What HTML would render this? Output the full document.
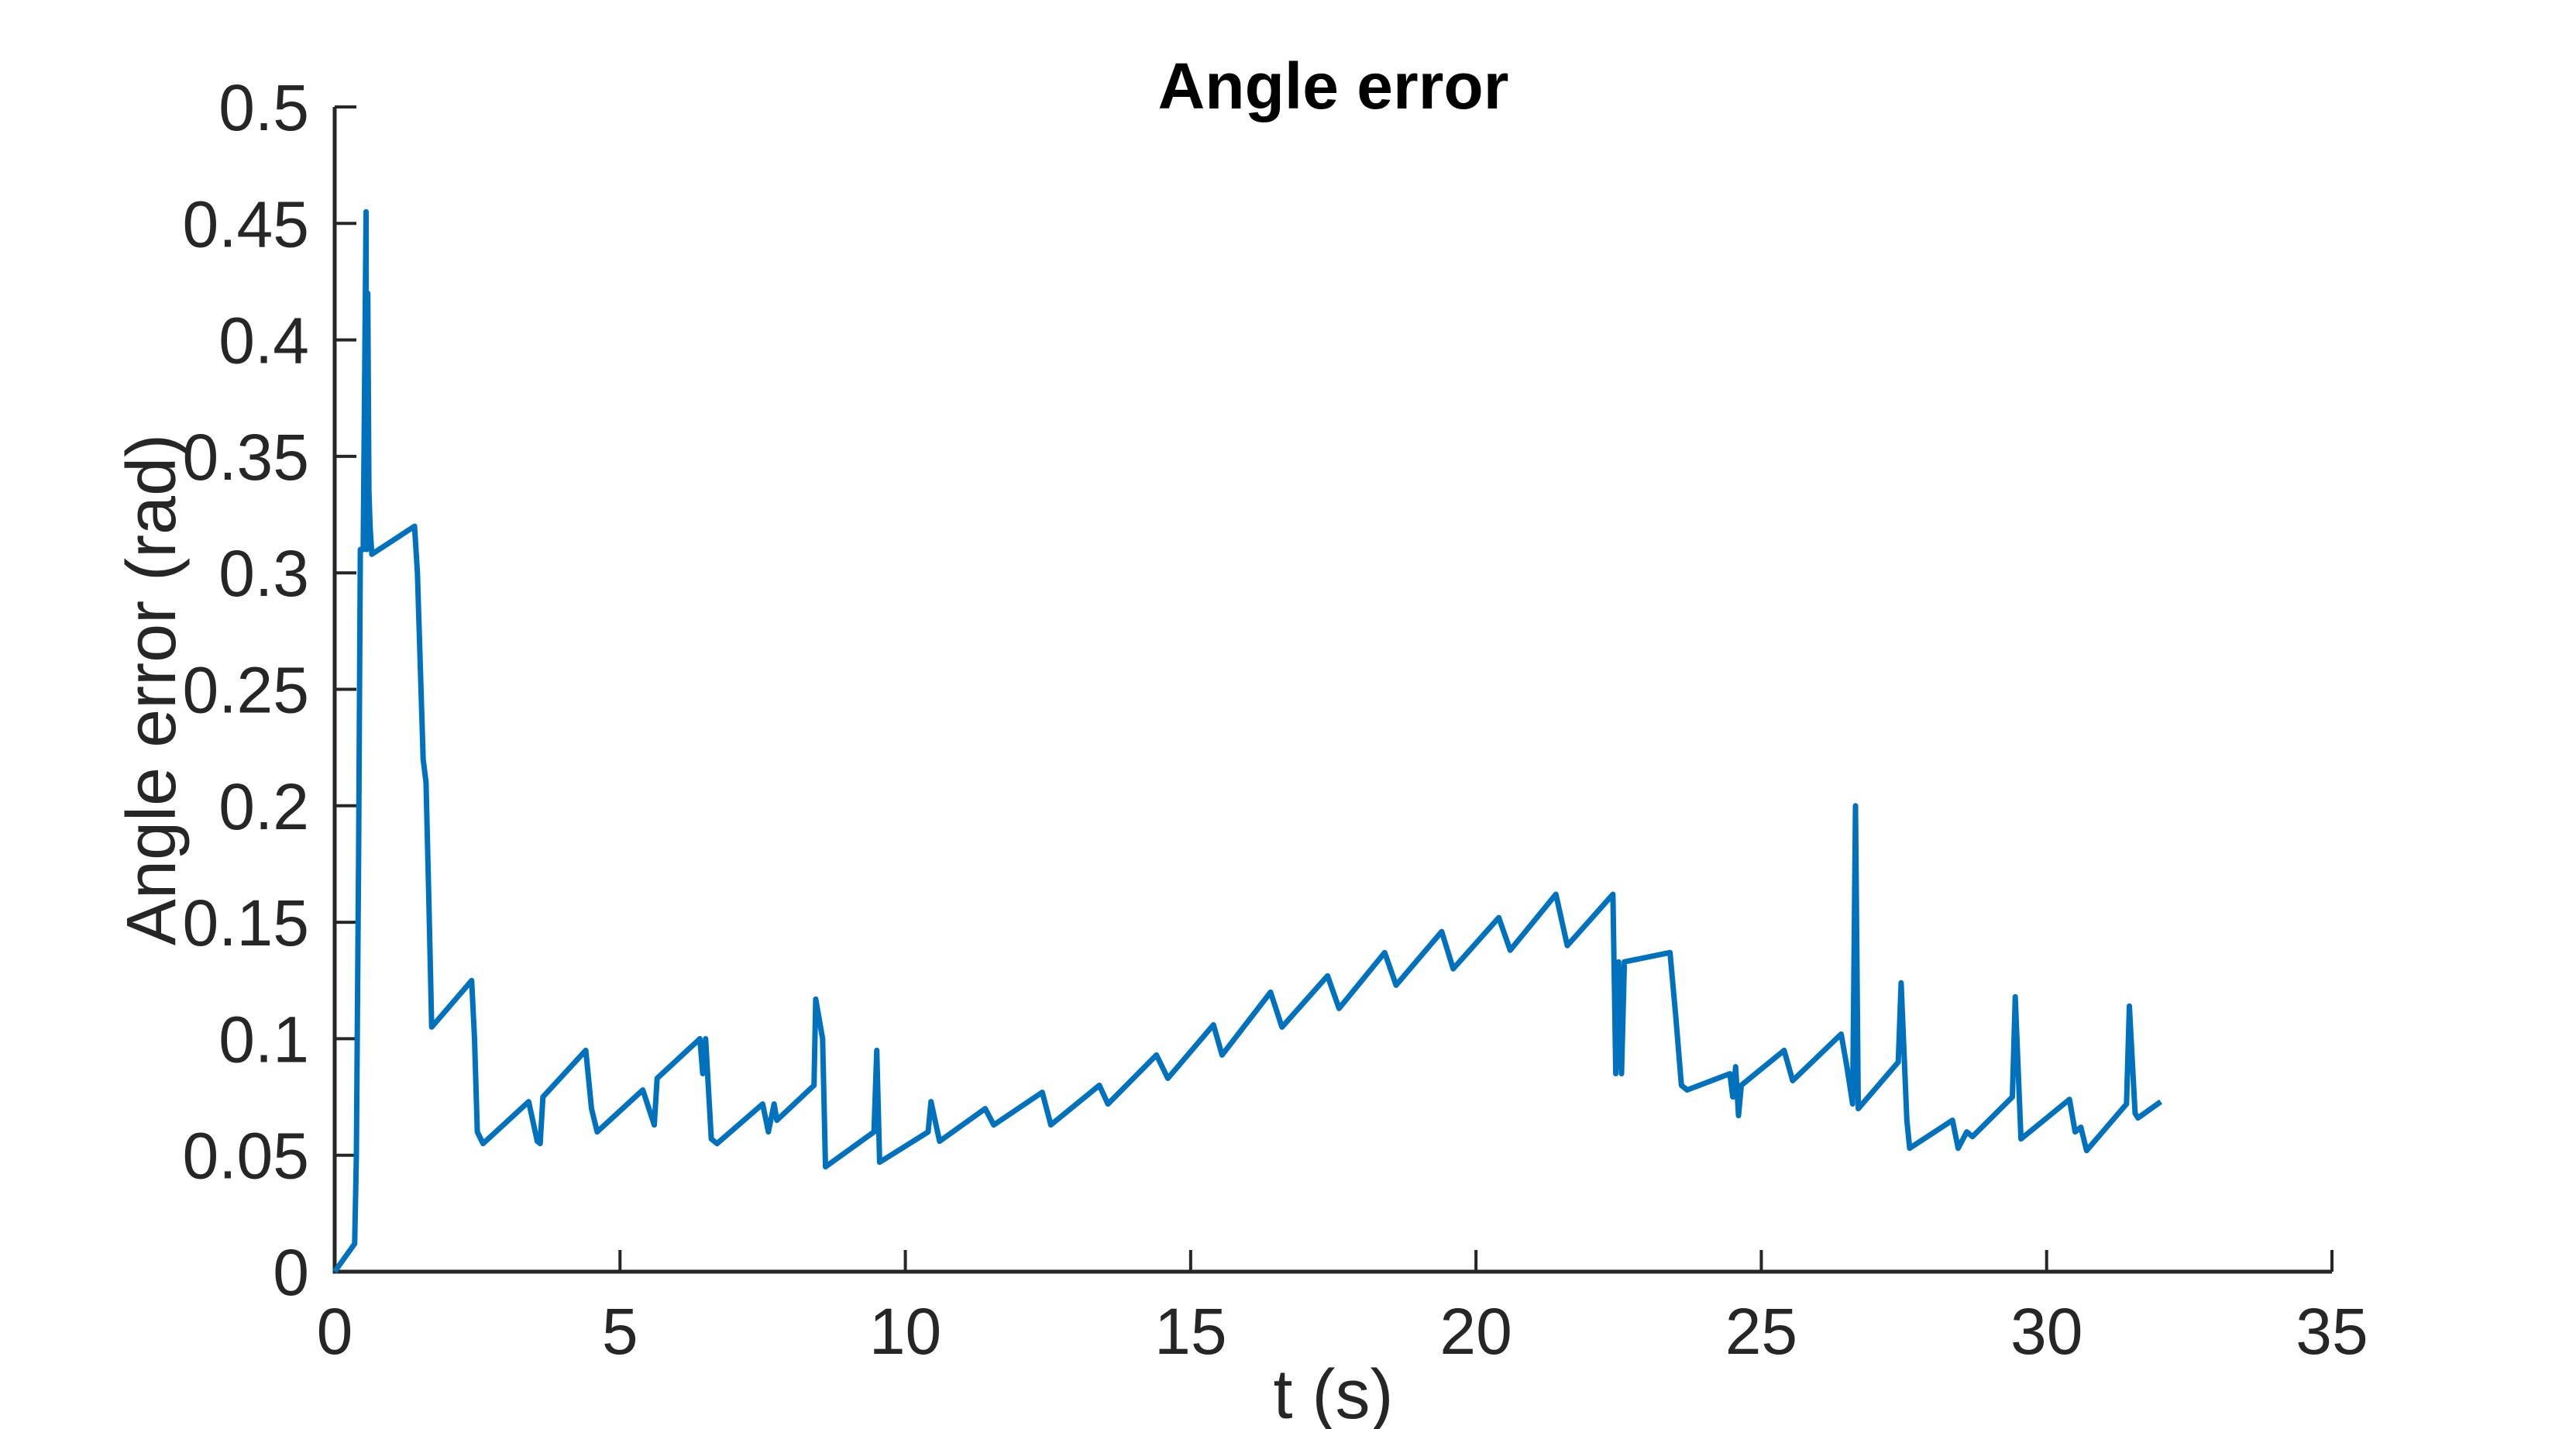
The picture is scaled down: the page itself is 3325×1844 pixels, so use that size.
<!DOCTYPE html>
<html><head><meta charset="utf-8"><style>
html,body{margin:0;padding:0;background:#fff;}
svg{display:block;}
text{font-family:"Liberation Sans",sans-serif;fill:#262626;}
</style></head><body>
<svg id="chart" width="3325" height="1844" viewBox="0 0 3325 1844" xmlns="http://www.w3.org/2000/svg">
<text x="1721" y="140" font-size="84" font-weight="bold" text-anchor="middle" style="fill:#000">Angle error</text>
<g id="axes"></g>
<path id="series" fill="none" stroke="#0072BD" stroke-width="7" stroke-linejoin="round"></path>
<text x="1721" y="1830" font-size="90" text-anchor="middle">t (s)</text>
<text transform="translate(226,890) rotate(-90)" font-size="90" text-anchor="middle">Angle error (rad)</text>
</svg>
<script>
const xTicks = [0,5,10,15,20,25,30,35];
const yTicks = [0,0.05,0.1,0.15,0.2,0.25,0.3,0.35,0.4,0.45,0.5];
const yTickLabels = ["0","0.05","0.1","0.15","0.2","0.25","0.3","0.35","0.4","0.45","0.5"];
const tVals = [0,0.35,0.38,0.42,0.45,0.5,0.55,0.56,0.58,0.6,0.62,0.65,1.4,1.45,1.5,1.55,1.6,1.65,1.7,2.4,2.45,2.5,2.6,3.4,3.55,3.6,3.65,4.4,4.5,4.6,5.4,5.6,5.65,6.4,6.45,6.5,6.6,6.7,7.5,7.6,7.7,7.75,8.4,8.43,8.55,8.6,9.45,9.5,9.55,10.4,10.45,10.6,11.4,11.55,12.4,12.55,13.4,13.55,14.4,14.6,15.4,15.55,16.4,16.6,17.4,17.6,18.4,18.6,19.4,19.6,20.4,20.6,21.4,21.6,22.4,22.45,22.5,22.55,22.6,23.4,23.5,23.6,23.7,24.45,24.5,24.55,24.6,24.65,25.4,25.55,26.4,26.5,26.6,26.65,26.7,27.4,27.45,27.55,27.6,28.35,28.45,28.6,28.7,29.4,29.45,29.55,30.4,30.5,30.6,30.7,31.4,31.45,31.55,31.6,32];
const errVals = [0,0.012,0.05,0.18,0.31,0.31,0.455,0.31,0.42,0.335,0.32,0.308,0.32,0.3,0.26,0.22,0.21,0.16,0.105,0.125,0.1,0.06,0.055,0.073,0.056,0.055,0.075,0.095,0.07,0.06,0.078,0.063,0.083,0.1,0.085,0.1,0.057,0.055,0.072,0.06,0.072,0.065,0.08,0.117,0.1,0.045,0.06,0.095,0.047,0.06,0.073,0.056,0.07,0.063,0.077,0.063,0.08,0.072,0.093,0.083,0.106,0.093,0.12,0.105,0.127,0.113,0.137,0.123,0.146,0.13,0.152,0.138,0.162,0.14,0.162,0.085,0.133,0.085,0.133,0.137,0.11,0.08,0.078,0.085,0.075,0.088,0.067,0.08,0.095,0.082,0.102,0.088,0.072,0.2,0.07,0.09,0.124,0.065,0.053,0.065,0.053,0.06,0.058,0.075,0.118,0.057,0.074,0.06,0.062,0.052,0.072,0.114,0.068,0.066,0.073];

const X0=432,X1=3010,Y0=1641,Y1=138;
const xs=v=>X0+(v-0)/(35-0)*(X1-X0);
const ys=v=>Y0-(v-0)/(0.5-0)*(Y0-Y1);
const NS="http://www.w3.org/2000/svg";
const ax=document.getElementById('axes');
function mk(tag,attrs){const e=document.createElementNS(NS,tag);for(const k in attrs)e.setAttribute(k,attrs[k]);return e;}
let yl=mk('path',{d:`M${X0},${Y1}V${Y0}H${X1}`,fill:'none',stroke:'#262626','stroke-width':5});


ax.appendChild(yl);
xTicks.forEach(v=>{
  const x=xs(v);
  const t=mk('line',{x1:x,x2:x,y1:Y0,y2:Y0-28,stroke:'#262626','stroke-width':4});
  
  
  ax.appendChild(t);
  const l=mk('text',{x:x,y:Y0+106,'font-size':84,'text-anchor':'middle'});
  l.textContent=String(v);
  
  
  ax.appendChild(l);
});
yTicks.forEach((v,i)=>{
  const y=ys(v);
  const t=mk('line',{x1:X0,x2:X0+28,y1:y,y2:y,stroke:'#262626','stroke-width':4});
  
  
  ax.appendChild(t);
  const l=mk('text',{x:X0-33,y:y+30,'font-size':84,'text-anchor':'end'});
  l.textContent=yTickLabels[i];
  
  
  ax.appendChild(l);
});
document.getElementById('series').setAttribute('d',tVals.map((t,i)=>(i?'L':'M')+xs(t).toFixed(1)+','+ys(errVals[i]).toFixed(1)).join(''));
</script>
</body></html>
